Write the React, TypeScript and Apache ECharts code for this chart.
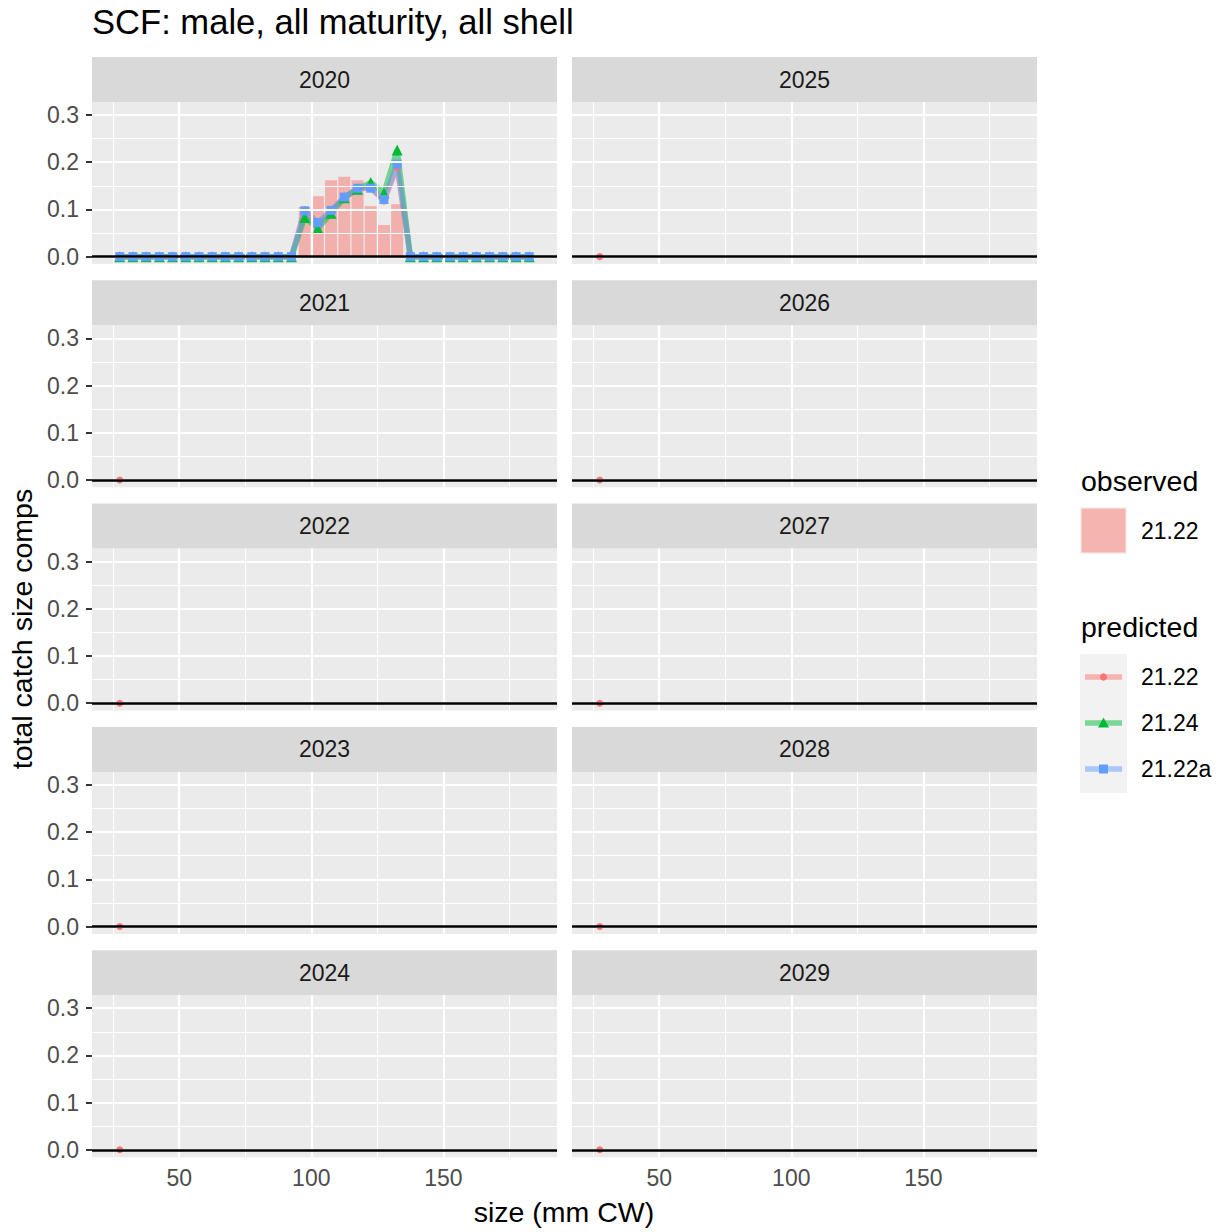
import React, { useEffect, useRef } from "react";
import * as echarts from "echarts";

// ---------------- data ----------------
const years = ["2020", "2021", "2022", "2023", "2024", "2025", "2026", "2027", "2028", "2029"];

const sizeBins = [
  27.5, 32.5, 37.5, 42.5, 47.5, 52.5, 57.5, 62.5, 67.5, 72.5, 77.5, 82.5, 87.5, 92.5,
  97.5, 102.5, 107.5, 112.5, 117.5, 122.5, 127.5, 132.5,
  137.5, 142.5, 147.5, 152.5, 157.5, 162.5, 167.5, 172.5, 177.5, 182.5,
];

// observed 21.22 (2020)
const observed2020 = [
  0, 0, 0, 0, 0, 0, 0, 0, 0, 0, 0, 0, 0, 0,
  0.105, 0.128, 0.162, 0.169, 0.162, 0.107, 0.067, 0.111,
  0, 0, 0, 0, 0, 0, 0, 0, 0, 0,
];

// predicted (2020)
const pred2122 = [
  0, 0, 0, 0, 0, 0, 0, 0, 0, 0, 0, 0, 0, 0,
  0.099, 0.070, 0.097, 0.125, 0.144, 0.146, 0.118, 0.189,
  0, 0, 0, 0, 0, 0, 0, 0, 0, 0,
];
const pred2124 = [
  0, 0, 0, 0, 0, 0, 0, 0, 0, 0, 0, 0, 0, 0,
  0.083, 0.060, 0.092, 0.125, 0.143, 0.157, 0.135, 0.226,
  0, 0, 0, 0, 0, 0, 0, 0, 0, 0,
];
const pred2122a = [
  0, 0, 0, 0, 0, 0, 0, 0, 0, 0, 0, 0, 0, 0,
  0.097, 0.072, 0.098, 0.126, 0.145, 0.145, 0.121, 0.196,
  0, 0, 0, 0, 0, 0, 0, 0, 0, 0,
];

// other years: one predicted 21.22 point
const otherPredX = [27.5];
const otherPredY = [0];

const xTicks = [50, 100, 150];
const xMinor = [25, 75, 125, 175];
const yTicks = [0, 0.1, 0.2, 0.3];
const yMinor = [0.05, 0.15, 0.25];

// ---------------- style / layout ----------------
const FONT = "'Liberation Sans', Arial, Helvetica, sans-serif";
const RED = "#F8766D";
const GREEN = "#00BA38";
const BLUE = "#619CFF";
const PANEL_LEFT = [92, 572];
const PANEL_W = 465;
const PANEL_TOP0 = 102;
const ROW_STEP = 223.3;
const PANEL_H = 162;
const STRIP_H = 45;
const X_MIN = 17;
const X_MAX = 193;
const Y_MIN = -0.0156;
const Y_MAX = 0.3276;

function buildOption() {
  const grids: any[] = [];
  const xAxes: any[] = [];
  const yAxes: any[] = [];
  const series: any[] = [];
  const graphic: any[] = [];

  years.forEach((yr, i) => {
    const col = Math.floor(i / 5);
    const row = i % 5;
    const left = PANEL_LEFT[col];
    const top = PANEL_TOP0 + row * ROW_STEP;
    grids.push({
      left,
      top,
      width: PANEL_W,
      height: PANEL_H,
      show: true,
      backgroundColor: "#EBEBEB",
      borderWidth: 0,
      containLabel: false,
    });
    const showX = row === 4;
    const showY = col === 0;
    xAxes.push({
      gridIndex: i,
      type: "value",
      min: X_MIN,
      max: X_MAX,
      axisLine: { show: false },
      axisTick: {
        show: showX,
        customValues: xTicks,
        length: 6,
        lineStyle: { color: "#333333", width: 2 },
      },
      axisLabel: {
        show: showX,
        customValues: xTicks,
        color: "#4D4D4D",
        fontSize: 23,
        fontFamily: FONT,
        margin: 9,
      },
      splitLine: { show: false },
    });
    yAxes.push({
      gridIndex: i,
      type: "value",
      min: Y_MIN,
      max: Y_MAX,
      axisLine: { show: false },
      axisTick: {
        show: showY,
        customValues: yTicks,
        length: 6,
        lineStyle: { color: "#333333", width: 2 },
      },
      axisLabel: {
        show: showY,
        customValues: yTicks,
        color: "#4D4D4D",
        fontSize: 23,
        fontFamily: FONT,
        margin: 13,
        formatter: (v: number) => v.toFixed(1),
      },
      splitLine: { show: false },
    });

    // grid lines
    const gl = (w: number) => ({ color: "#FFFFFF", width: w, type: "solid", opacity: 1 });
    series.push({
      type: "line",
      name: "grid" + i,
      xAxisIndex: i,
      yAxisIndex: i,
      data: [],
      silent: true,
      z: 1,
      markLine: {
        silent: true,
        symbol: ["none", "none"],
        label: { show: false },
        emphasis: { disabled: true },
        data: [
          ...xMinor.map((v) => ({ xAxis: v, lineStyle: gl(1) })),
          ...yMinor.map((v) => ({ yAxis: v, lineStyle: gl(1) })),
          ...xTicks.map((v) => ({ xAxis: v, lineStyle: gl(2.2) })),
          ...yTicks.map((v) => ({ yAxis: v, lineStyle: gl(2.2) })),
        ],
      },
    });
    // zero line
    series.push({
      type: "line",
      name: "zero" + i,
      xAxisIndex: i,
      yAxisIndex: i,
      data: [],
      silent: true,
      z: 2,
      markLine: {
        silent: true,
        symbol: ["none", "none"],
        label: { show: false },
        emphasis: { disabled: true },
        data: [{ yAxis: 0, lineStyle: { color: "#000000", width: 2.6, type: "solid", opacity: 1 } }],
      },
    });

    if (i === 0) {
      series.push({
        type: "bar",
        name: "observed 21.22",
        xAxisIndex: 0,
        yAxisIndex: 0,
        barWidth: 12,
        z: 3,
        data: sizeBins.map((x, k) => [x, observed2020[k]]),
        itemStyle: { color: RED, opacity: 0.5 },
      });
      const mk = (name: string, vals: number[], color: string, symbol: string, size: number) => ({
        type: "line",
        name,
        xAxisIndex: 0,
        yAxisIndex: 0,
        z: 4,
        data: sizeBins.map((x, k) => [x, vals[k]]),
        showAllSymbol: true,
        symbol,
        symbolSize: size,
        lineStyle: { color, width: 5.5, opacity: 0.5 },
        itemStyle: { color, opacity: 1 },
      });
      series.push(mk("21.22", pred2122, RED, "circle", 7));
      series.push(mk("21.24", pred2124, GREEN, "triangle", 11));
      series.push(mk("21.22a", pred2122a, BLUE, "rect", 9));
    } else {
      series.push({
        type: "scatter",
        name: "21.22 " + yr,
        xAxisIndex: i,
        yAxisIndex: i,
        z: 4,
        symbol: "circle",
        symbolSize: 7,
        data: otherPredX.map((x, k) => [x, otherPredY[k]]),
        itemStyle: { color: RED, opacity: 1 },
      });
    }

    // strip
    graphic.push({
      type: "rect",
      silent: true,
      shape: { x: left, y: top - STRIP_H, width: PANEL_W, height: STRIP_H },
      style: { fill: "#D9D9D9" },
    });
    graphic.push({
      type: "text",
      silent: true,
      x: left + PANEL_W / 2,
      y: top - STRIP_H / 2,
      style: {
        text: yr,
        fill: "#1A1A1A",
        font: `23px ${FONT}`,
        textAlign: "center",
        textVerticalAlign: "middle",
      },
    });
  });

  // titles
  graphic.push({
    type: "text",
    silent: true,
    x: 92,
    y: 22,
    style: {
      text: "SCF: male, all maturity, all shell",
      fill: "#000000",
      font: `34.6px ${FONT}`,
      textAlign: "left",
      textVerticalAlign: "middle",
    },
  });
  graphic.push({
    type: "text",
    silent: true,
    x: 564,
    y: 1212,
    style: {
      text: "size (mm CW)",
      fill: "#000000",
      font: `28.5px ${FONT}`,
      textAlign: "center",
      textVerticalAlign: "middle",
    },
  });
  graphic.push({
    type: "text",
    silent: true,
    x: 22,
    y: 629,
    rotation: Math.PI / 2,
    style: {
      text: "total catch size comps",
      fill: "#000000",
      font: `28.5px ${FONT}`,
      textAlign: "center",
      textVerticalAlign: "middle",
    },
  });

  // legend: observed
  graphic.push({
    type: "text",
    silent: true,
    x: 1081,
    y: 481,
    style: { text: "observed", fill: "#000000", font: `28.5px ${FONT}`, textAlign: "left", textVerticalAlign: "middle" },
  });
  graphic.push({
    type: "rect",
    silent: true,
    shape: { x: 1080, y: 507, width: 47, height: 47 },
    style: { fill: "#F2F2F2" },
  });
  graphic.push({
    type: "rect",
    silent: true,
    shape: { x: 1081.5, y: 508.5, width: 44, height: 44 },
    style: { fill: RED, opacity: 0.5 },
  });
  graphic.push({
    type: "text",
    silent: true,
    x: 1141,
    y: 531,
    style: { text: "21.22", fill: "#000000", font: `23px ${FONT}`, textAlign: "left", textVerticalAlign: "middle" },
  });

  // legend: predicted
  graphic.push({
    type: "text",
    silent: true,
    x: 1081,
    y: 627,
    style: { text: "predicted", fill: "#000000", font: `28.5px ${FONT}`, textAlign: "left", textVerticalAlign: "middle" },
  });
  graphic.push({
    type: "rect",
    silent: true,
    shape: { x: 1080, y: 654, width: 47, height: 139 },
    style: { fill: "#F2F2F2" },
  });
  const legItems = [
    { label: "21.22", color: RED, kind: "circle" },
    { label: "21.24", color: GREEN, kind: "triangle" },
    { label: "21.22a", color: BLUE, kind: "square" },
  ];
  legItems.forEach((it, k) => {
    const cy = 677 + k * 46;
    graphic.push({
      type: "line",
      silent: true,
      shape: { x1: 1085, y1: cy, x2: 1122, y2: cy },
      style: { stroke: it.color, lineWidth: 5.5, opacity: 0.5 },
    });
    if (it.kind === "circle") {
      graphic.push({ type: "circle", silent: true, shape: { cx: 1103.5, cy, r: 3.6 }, style: { fill: it.color } });
    } else if (it.kind === "triangle") {
      graphic.push({
        type: "polygon",
        silent: true,
        shape: { points: [[1103.5, cy - 5.5], [1109, cy + 4.5], [1098, cy + 4.5]] },
        style: { fill: it.color },
      });
    } else {
      graphic.push({ type: "rect", silent: true, shape: { x: 1099, y: cy - 4.5, width: 9, height: 9 }, style: { fill: it.color } });
    }
    graphic.push({
      type: "text",
      silent: true,
      x: 1141,
      y: cy,
      style: { text: it.label, fill: "#000000", font: `23px ${FONT}`, textAlign: "left", textVerticalAlign: "middle" },
    });
  });

  return {
    animation: false,
    backgroundColor: "#FFFFFF",
    textStyle: { fontFamily: FONT },
    grid: grids,
    xAxis: xAxes,
    yAxis: yAxes,
    series,
    graphic,
  };
}

export default function App() {
  const ref = useRef<HTMLDivElement>(null);
  useEffect(() => {
    if (!ref.current) return;
    const chart = echarts.init(ref.current, undefined, { renderer: "svg" });
    chart.setOption(buildOption() as any);
    return () => chart.dispose();
  }, []);
  return (
    <div
      ref={ref}
      style={{ position: "fixed", left: 0, top: 0, width: 1225, height: 1232, background: "#FFFFFF" }}
    />
  );
}
